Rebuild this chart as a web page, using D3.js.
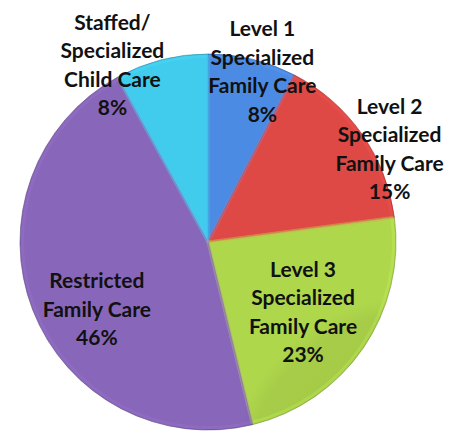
<!DOCTYPE html>
<html>
<head>
<meta charset="utf-8">
<script src="https://cdn.jsdelivr.net/npm/d3@7"></script>
<style>
  body { margin: 0; background: #fff; }
  .lbl { font-family: Lato, "Open Sans", sans-serif; font-weight: bold; font-size: 21px; fill: #111; }
</style>
</head>
<body>
<div id="chart"></div>
<script>
var categories = [
  ['Level 1', 'Specialized', 'Family Care'],
  ['Level 2', 'Specialized', 'Family Care'],
  ['Level 3', 'Specialized', 'Family Care'],
  ['Restricted', 'Family Care'],
  ['Staffed/', 'Specialized', 'Child Care']
];
var shares = [7.6, 15.3, 23.3, 45.8, 8.0];
var colors = ['#4884d8', '#d24541', '#a6cc48', '#8162b0', '#3ec0e0'];

// label placement: [distance from centre, angle nudge in degrees]
var labelSpots = [[179, 4], [204, 8], [118, 2], [130, -10], [201, -14]];

var width = 454, height = 434;
var cx = 208, cy = 242, radius = 188;
var lineH = 28.5;

var svg = d3.select('#chart').append('svg')
    .attr('width', width)
    .attr('height', height);

var defs = svg.append('defs');
colors.forEach(function(c, i) {
  var g = defs.append('radialGradient')
      .attr('id', 'grad' + i)
      .attr('gradientUnits', 'userSpaceOnUse')
      .attr('cx', cx).attr('cy', cy)
      .attr('r', radius);
  g.append('stop').attr('offset', '0%').attr('stop-color', d3.color(c).darker(0.08));
  g.append('stop').attr('offset', '90%').attr('stop-color', c);
  g.append('stop').attr('offset', '100%').attr('stop-color', d3.color(c).brighter(0.15));
});

var pie = d3.pie().sort(null).value(function(d) { return d; });
var arcs = pie(shares);

var arc = d3.arc().innerRadius(0).outerRadius(radius);
var rim = d3.arc().innerRadius(0).outerRadius(radius - 2.5);

var g = svg.append('g')
    .attr('transform', 'translate(' + cx + ',' + cy + ')');

g.selectAll('path.slice')
    .data(arcs)
  .enter().append('path')
    .attr('class', 'slice')
    .attr('d', arc)
    .attr('fill', function(d, i) { return 'url(#grad' + i + ')'; })
    .attr('stroke', function(d, i) { return d3.color(colors[i]).darker(1); })
    .attr('stroke-opacity', 0.6)
    .attr('stroke-width', 1);

// soft bevel highlight
g.selectAll('path.rim')
    .data(arcs)
  .enter().append('path')
    .attr('class', 'rim')
    .attr('d', rim)
    .attr('fill', 'none')
    .attr('stroke', function(d, i) { return d3.color(colors[i]).brighter(0.5); })
    .attr('stroke-opacity', 0.3)
    .attr('stroke-width', 3);

var fmt = d3.format('.0f');

var labels = g.selectAll('text.lbl')
    .data(arcs)
  .enter().append('text')
    .attr('class', 'lbl')
    .attr('text-anchor', 'middle')
    .attr('transform', function(d, i) {
      var a = (d.startAngle + d.endAngle) / 2 + labelSpots[i][1] * Math.PI / 180;
      var r = labelSpots[i][0];
      return 'translate(' + (Math.sin(a) * r) + ',' + (-Math.cos(a) * r) + ')';
    });

labels.each(function(d, i) {
  var lines = categories[i].concat([fmt(d.value) + '%']);
  var t = d3.select(this);
  var top = -(lines.length - 1) * lineH / 2;
  lines.forEach(function(s, k) {
    t.append('tspan')
      .attr('x', 0)
      .attr('y', top + k * lineH)
      .attr('dy', '0.35em')
      .text(s);
  });
});
</script>
</body>
</html>
